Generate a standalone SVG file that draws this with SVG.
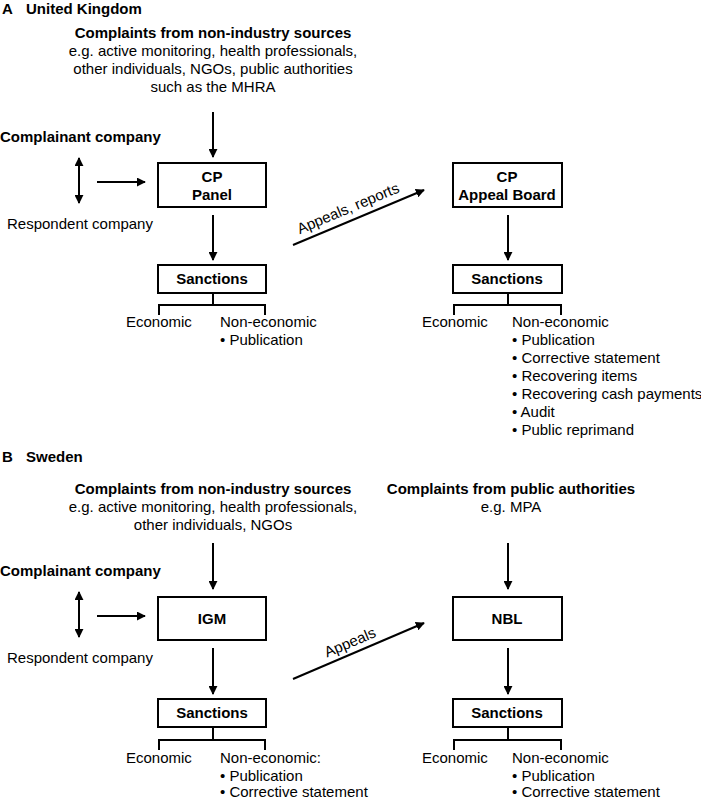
<svg xmlns="http://www.w3.org/2000/svg" width="701" height="800" viewBox="0 0 701 800">
<style>
text{font-family:"Liberation Sans",Arial,sans-serif;font-size:15px;fill:#000}
.b{font-weight:bold}
.c{text-anchor:middle}
.box{fill:#fff;stroke:#000;stroke-width:2}
.ln{fill:none;stroke:#000;stroke-width:2}
</style>
<defs>
<marker id="ah" viewBox="0 0 10 10" refX="9" refY="5" markerWidth="4.5" markerHeight="4.5" orient="auto-start-reverse" markerUnits="strokeWidth">
<path d="M0,0 L10,5 L0,10 z" fill="#000"/>
</marker>
</defs>
<rect width="701" height="800" fill="#fff"/>

<g id="title-a"><text class="b" x="2" y="14">A</text><text class="b" x="26" y="14">United Kingdom</text></g>
<g id="uk-sources">
<text class="b c" x="213" y="38">Complaints from non-industry sources</text>
<text class="c" x="213" y="56">e.g. active monitoring, health professionals,</text>
<text class="c" x="213" y="74">other individuals, NGOs, public authorities</text>
<text class="c" x="213" y="92">such as the MHRA</text>
</g>
<g id="uk-complainant"><text class="b" x="0" y="142">Complainant company</text></g>
<g id="uk-respondent"><text x="7" y="229">Respondent company</text></g>
<g id="uk-panel"><rect class="box" x="158" y="163" width="108" height="44"/><text class="b c" x="212" y="182">CP</text><text class="b c" x="212" y="200">Panel</text></g>
<g id="uk-sanctions1"><rect class="box" x="158" y="265" width="108" height="28"/><text class="b c" x="212" y="284">Sanctions</text></g>
<g id="uk-sanctions1-list"><text x="126" y="327">Economic</text><text x="220" y="327">Non-economic</text><text x="220" y="345">• Publication</text></g>
<g id="uk-board"><rect class="box" x="453" y="163" width="109" height="44"/><text class="b c" x="507" y="182">CP</text><text class="b c" x="507" y="200">Appeal Board</text></g>
<g id="uk-sanctions2"><rect class="box" x="453" y="265" width="109" height="28"/><text class="b c" x="507" y="284">Sanctions</text></g>
<g id="uk-sanctions2-list"><text x="422" y="327">Economic</text><text x="512" y="327">Non-economic</text>
<text x="512" y="345">• Publication</text><text x="512" y="363">• Corrective statement</text><text x="512" y="381">• Recovering items</text><text x="512" y="399">• Recovering cash payments</text><text x="512" y="417">• Audit</text><text x="512" y="435">• Public reprimand</text></g>

<g id="title-b"><text class="b" x="2" y="462">B</text><text class="b" x="26" y="462">Sweden</text></g>
<g id="se-sources">
<text class="b c" x="213" y="494">Complaints from non-industry sources</text>
<text class="c" x="213" y="512">e.g. active monitoring, health professionals,</text>
<text class="c" x="213" y="530">other individuals, NGOs</text>
</g>
<g id="se-public"><text class="b c" x="511" y="494">Complaints from public authorities</text><text class="c" x="511" y="512">e.g. MPA</text></g>
<g id="se-complainant"><text class="b" x="0" y="576">Complainant company</text></g>
<g id="se-respondent"><text x="7" y="663">Respondent company</text></g>
<g id="se-igm"><rect class="box" x="158" y="597" width="108" height="43"/><text class="b c" x="212" y="624">IGM</text></g>
<g id="se-sanctions1"><rect class="box" x="158" y="699" width="108" height="28"/><text class="b c" x="212" y="718">Sanctions</text></g>
<g id="se-sanctions1-list"><text x="126" y="763">Economic</text><text x="220" y="763">Non-economic:</text><text x="220" y="781">• Publication</text><text x="220" y="797">• Corrective statement</text></g>
<g id="se-nbl"><rect class="box" x="453" y="597" width="109" height="43"/><text class="b c" x="507" y="624">NBL</text></g>
<g id="se-sanctions2"><rect class="box" x="453" y="699" width="109" height="28"/><text class="b c" x="507" y="718">Sanctions</text></g>
<g id="se-sanctions2-list"><text x="422" y="763">Economic</text><text x="512" y="763">Non-economic</text><text x="512" y="781">• Publication</text><text x="512" y="797">• Corrective statement</text></g>

<g id="connectors">
<line class="ln" x1="213" y1="112" x2="213" y2="157" marker-end="url(#ah)"/>
<line class="ln" x1="79" y1="158" x2="79" y2="203" marker-start="url(#ah)" marker-end="url(#ah)"/>
<line class="ln" x1="97" y1="182" x2="145" y2="182" marker-end="url(#ah)"/>
<line class="ln" x1="213" y1="215" x2="213" y2="260" marker-end="url(#ah)"/>
<path class="ln" d="M213,293 V305 M159,315 V305 H265 V315"/>
<line class="ln" x1="293" y1="245" x2="424" y2="190" marker-end="url(#ah)"/>
<text transform="translate(350,213) rotate(-22.8)" class="c">Appeals, reports</text>
<line class="ln" x1="508" y1="215" x2="508" y2="260" marker-end="url(#ah)"/>
<path class="ln" d="M508,293 V305 M454,315 V305 H561 V315"/>

<line class="ln" x1="213" y1="543" x2="213" y2="589" marker-end="url(#ah)"/>
<line class="ln" x1="79" y1="592" x2="79" y2="637" marker-start="url(#ah)" marker-end="url(#ah)"/>
<line class="ln" x1="97" y1="616" x2="145" y2="616" marker-end="url(#ah)"/>
<line class="ln" x1="213" y1="648" x2="213" y2="694" marker-end="url(#ah)"/>
<path class="ln" d="M213,727 V740 M159,750 V740 H265 V750"/>
<line class="ln" x1="293" y1="679" x2="424" y2="623" marker-end="url(#ah)"/>
<text transform="translate(352,647) rotate(-23)" class="c">Appeals</text>
<line class="ln" x1="508" y1="543" x2="508" y2="589" marker-end="url(#ah)"/>
<line class="ln" x1="508" y1="648" x2="508" y2="694" marker-end="url(#ah)"/>
<path class="ln" d="M508,727 V740 M454,750 V740 H561 V750"/>
</g>
</svg>
